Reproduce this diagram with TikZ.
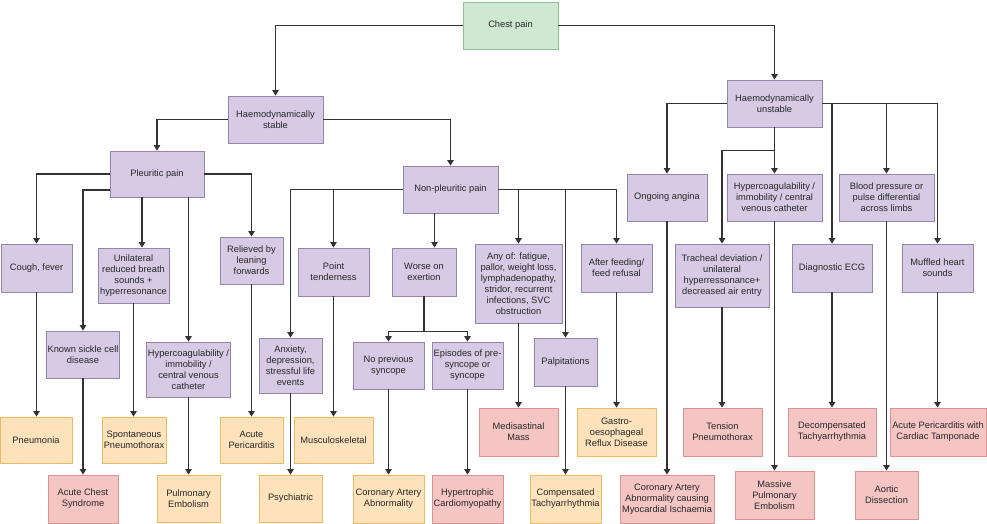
\documentclass[tikz,border=0pt]{standalone}
\usepackage{fontspec}
\setmainfont{Liberation Sans}
\usetikzlibrary{arrows.meta}
\definecolor{pfill}{RGB}{214,202,228}
\definecolor{pdraw}{RGB}{150,132,172}
\definecolor{gfill}{RGB}{207,232,209}
\definecolor{gdraw}{RGB}{140,196,151}
\definecolor{ofill}{RGB}{253,226,188}
\definecolor{odraw}{RGB}{233,186,98}
\definecolor{rfill}{RGB}{245,197,196}
\definecolor{rdraw}{RGB}{217,147,146}
\definecolor{linec}{RGB}{50,50,50}
\definecolor{textc}{RGB}{40,40,40}
\tikzset{
  basebox/.style={draw, line width=0.9pt, align=center, inner sep=1pt, text=textc,
    font=\fontsize{9.3}{11}\selectfont},
  pbox/.style={basebox, fill=pfill, draw=pdraw},
  gbox/.style={basebox, fill=gfill, draw=gdraw},
  obox/.style={basebox, fill=ofill, draw=odraw},
  rbox/.style={basebox, fill=rfill, draw=rdraw},
  sz/.style 2 args={minimum width=#1pt, minimum height=#2pt},
  arr/.style={draw=linec, line width=1.1pt, -{Triangle[width=6.5pt,length=5.5pt]}},
  ln/.style={draw=linec, line width=1.1pt}
}
\begin{document}
\begin{tikzpicture}[x=1pt,y=-1pt]
\useasboundingbox (0,0) rectangle (987,523);
% level 0-1
\node[gbox, sz={95}{47}] (cp) at (510.5,25.5) {Chest pain};
\node[pbox, sz={95}{47}] (hs) at (275.5,119.5) {Haemodynamically\\stable};
\node[pbox, sz={95}{47}] (hu) at (774.5,103.5) {Haemodynamically\\unstable};
\node[pbox, sz={94}{46}] (pp) at (157,174) {Pleuritic pain};
\node[pbox, sz={95}{47}] (np) at (450.5,189.5) {Non-pleuritic pain};
% second row
\node[pbox, sz={71}{48}] (cf) at (36.5,268) {Cough, fever};
\node[pbox, sz={71}{55}] (ur) at (133.5,275.5) {Unilateral\\reduced breath\\sounds +\\hyperresonance};
\node[pbox, sz={63}{47}] (rl) at (251.5,260.5) {Relieved by\\leaning\\forwards};
\node[pbox, sz={71}{48}] (pt) at (333.5,272) {Point\\tenderness};
\node[pbox, sz={64}{48}] (we) at (424,272) {Worse on\\exertion};
\node[pbox, sz={87}{79}] (ao) at (518.5,283.5) {Any of: fatigue,\\pallor, weight loss,\\lymphadenopathy,\\stridor, recurrent\\infections, SVC\\obstruction};
\node[pbox, sz={71}{48}] (af) at (616.5,268) {After feeding/\\feed refusal};
\node[pbox, sz={80}{47}] (oa) at (667,197.5) {Ongoing angina};
\node[pbox, sz={95}{47}] (hc2) at (774.5,197.5) {Hypercoagulability /\\immobility / central\\venous catheter};
\node[pbox, sz={95}{47}] (bp) at (886.5,197.5) {Blood pressure or\\pulse differential\\across limbs};
\node[pbox, sz={94}{63}] (td) at (722,275.5) {Tracheal deviation /\\unilateral\\hyperressonance+\\decreased air entry};
\node[pbox, sz={80}{48}] (ecg) at (832,268) {Diagnostic ECG};
\node[pbox, sz={71}{48}] (mh) at (937.5,268) {Muffled heart\\sounds};
% third row
\node[pbox, sz={70}{47}] (ks) at (83,354.5) {Known sickle cell\\disease};
\node[pbox, sz={79}{55}] (hc1) at (188.5,369.5) {Hypercoagulability /\\immobility /\\central venous\\catheter};
\node[pbox, sz={63}{55}] (ax) at (290.5,365.5) {Anxiety,\\depression,\\stressful life\\events};
\node[pbox, sz={71}{47}] (ns) at (388.5,365.5) {No previous\\syncope};
\node[pbox, sz={71}{47}] (ep) at (467.5,365.5) {Episodes of pre-\\syncope or\\syncope};
\node[pbox, sz={63}{48}] (pa) at (565.5,362) {Palpitations};
% outcomes upper
\node[obox, sz={72}{46}] (pn) at (36,440) {Pneumonia};
\node[obox, sz={64}{46}] (sp) at (134,440) {Spontaneous\\Pneumothorax};
\node[obox, sz={63}{46}] (apc) at (251.5,440) {Acute\\Pericarditis};
\node[obox, sz={79}{46}] (ms) at (333.5,440) {Musculoskeletal};
\node[rbox, sz={79}{48}] (mm) at (518.5,432) {Medisastinal\\Mass};
\node[obox, sz={79}{48}] (gord) at (616.5,432) {Gastro-\\oesophageal\\Reflux Disease};
\node[rbox, sz={79}{48}] (tp) at (722.5,432) {Tension\\Pneumothorax};
\node[rbox, sz={88}{48}] (dt) at (832,432) {Decompensated\\Tachyarrhythmia};
\node[rbox, sz={96}{48}] (apt) at (938,432) {Acute Pericarditis with\\Cardiac Tamponade};
% outcomes lower
\node[rbox, sz={70}{48}] (acs) at (83,499) {Acute Chest\\Syndrome};
\node[obox, sz={63}{47}] (pe) at (188.5,498.5) {Pulmonary\\Embolism};
\node[obox, sz={63}{47}] (ps) at (290.5,498.5) {Psychiatric};
\node[obox, sz={71}{48}] (caa) at (388.5,499) {Coronary Artery\\Abnormality};
\node[rbox, sz={71}{48}] (hcm) at (467.5,499) {Hypertrophic\\Cardiomyopathy};
\node[obox, sz={71}{48}] (ct) at (565.5,499) {Compensated\\Tachyarrhythmia};
\node[rbox, sz={94}{48}] (cam) at (667,499) {Coronary Artery\\Abnormality causing\\Myocardial Ischaemia};
\node[rbox, sz={79}{48}] (mpe) at (774.5,495) {Massive\\Pulmonary\\Embolism};
\node[rbox, sz={63}{48}] (ad) at (886.5,495) {Aortic\\Dissection};
% connectors
\draw[arr] (cp.west) -| (hs.north);
\draw[arr] (cp.east) -| (hu.north);
\draw[arr] (hs.west) -| (pp.north);
\draw[arr] (hs.east) -| (np.north);
% pleuritic
\draw[arr] (pp.west) -| (cf.north);
\draw[arr] ([yshift=-16pt]pp.west) -| (ks.north);
\draw[arr] ([xshift=-15pt]pp.south) -- ([xshift=-15pt]pp.south |- ur.north);
\draw[arr] (pp.south -| hc1.north) -- (hc1.north);
\draw[arr] (pp.east) -| (rl.north);
\draw[arr] (cf.south) -- (cf.south |- pn.north);
\draw[arr] (ur.south) -- (ur.south |- sp.north);
\draw[arr] (ks.south) -- (acs.north);
\draw[arr] (hc1.south) -- (pe.north);
\draw[arr] (rl.south) -- (apc.north);
% non-pleuritic
\draw[arr] (np.west) -| (ax.north);
\draw[arr] (np.west) -| (pt.north);
\draw[arr] ([xshift=-16pt]np.south) -- ([xshift=-16pt]np.south |- we.north);
\draw[arr] (np.east) -| (ao.north);
\draw[arr] (np.east) -| (pa.north);
\draw[arr] (np.east) -| (af.north);
\draw[ln] (we.south) -- ++(0,35) coordinate (wej);
\draw[arr] (wej) -| (ns.north);
\draw[arr] (wej) -| (ep.north);
\draw[arr] (pt.south) -- (ms.north);
\draw[arr] (ax.south) -- (ps.north);
\draw[arr] (ns.south) -- (caa.north);
\draw[arr] (ep.south) -- (hcm.north);
\draw[arr] (pa.south) -- (ct.north);
\draw[arr] (ao.south) -- (mm.north);
\draw[arr] (af.south) -- (gord.north);
% unstable
\draw[arr] (hu.west) -| (oa.north);
\draw[arr] (hu.south) -- (hc2.north);
\draw[arr] ([yshift=-23pt]hu.south) -| (td.north);
\draw[arr] (hu.east) -| (ecg.north);
\draw[arr] (hu.east) -| (bp.north);
\draw[arr] (hu.east) -| (mh.north);
\draw[arr] (oa.south) -- (cam.north);
\draw[arr] (hc2.south) -- (mpe.north);
\draw[arr] (td.south) -- (td.south |- tp.north);
\draw[arr] (ecg.south) -- (dt.north);
\draw[arr] (bp.south) -- (ad.north);
\draw[arr] (mh.south) -- (mh.south |- apt.north);
\end{tikzpicture}
\end{document}
